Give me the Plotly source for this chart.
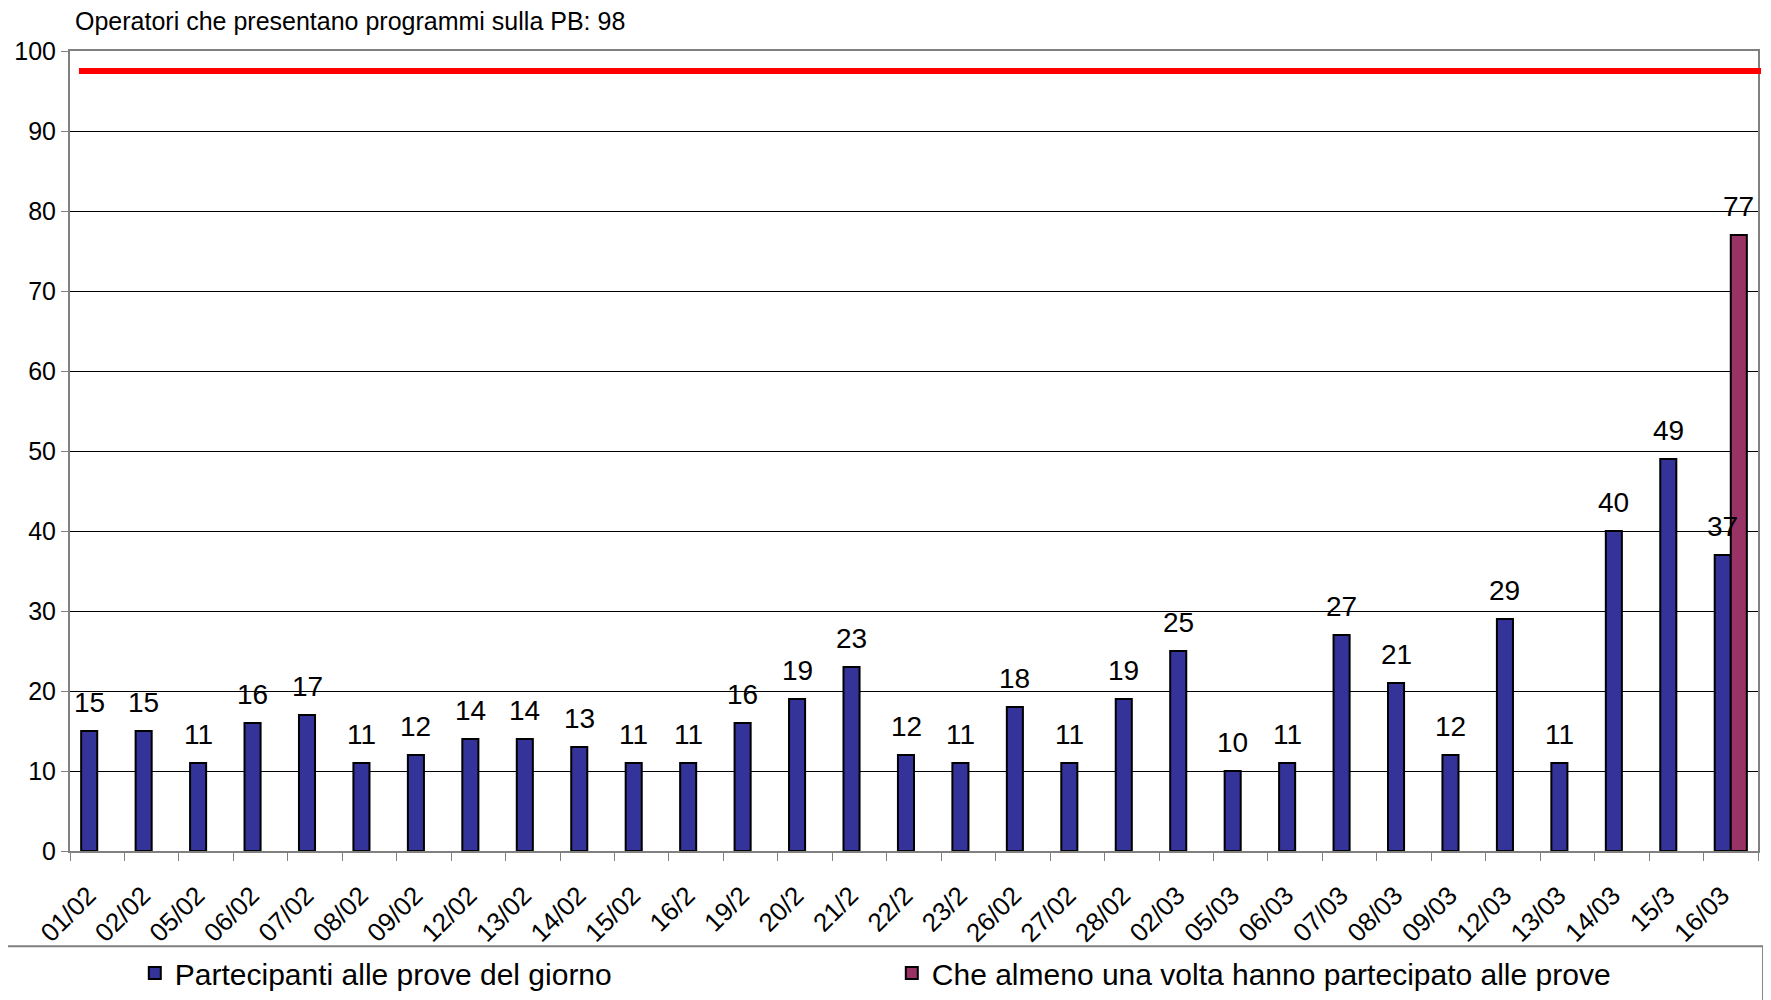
import plotly.graph_objects as go

# dates of the test sessions
giorni = ['01/02', '02/02', '05/02', '06/02', '07/02', '08/02', '09/02', '12/02',
          '13/02', '14/02', '15/02', '16/2', '19/2', '20/2', '21/2', '22/2', '23/2',
          '26/02', '27/02', '28/02', '02/03', '05/03', '06/03', '07/03', '08/03',
          '09/03', '12/03', '13/03', '14/03', '15/3', '16/03']

partecipanti = [15, 15, 11, 16, 17, 11, 12, 14, 14, 13, 11, 11, 16, 19, 23, 12, 11,
                18, 11, 19, 25, 10, 11, 27, 21, 12, 29, 11, 40, 49, 37]

almeno_una_volta = [None] * 30 + [77]

operatori_pb = 97.5
titolo = 'Operatori che presentano programmi sulla PB: 98'

FONT = 'Liberation Sans, Arial, sans-serif'
BLU = '#333399'
VIOLA = '#993366'

fig = go.Figure()
fig.add_bar(x=giorni, y=partecipanti, name='Partecipanti alle prove del giorno',
            marker=dict(color=BLU, line=dict(color='black', width=2)))
fig.add_bar(x=giorni, y=almeno_una_volta, name='Che almeno una volta hanno partecipato alle prove',
            marker=dict(color=VIOLA, line=dict(color='black', width=2)))

# value labels above the bars
annots = []
for serie, shift in ((partecipanti, -8), (almeno_una_volta, 8)):
    for g, v in zip(giorni, serie):
        if v is None:
            continue
        annots.append(dict(x=g, y=v, text=str(v), showarrow=False, xshift=shift, yshift=29,
                           yanchor='middle', font=dict(size=28, color='black', family=FONT)))

annots.append(dict(xref='paper', yref='paper', x=0.0015, y=1.037, text=titolo, showarrow=False,
                   xanchor='left', yanchor='middle', font=dict(size=25, color='black', family=FONT)))

fig.add_shape(type='line', xref='paper', yref='y', x0=0.0053, x1=1.0018,
              y0=operatori_pb, y1=operatori_pb, line=dict(color='#ff0000', width=6))
# legend frame
fig.add_shape(type='rect', xref='paper', yref='paper', x0=-0.0415, x1=1.003, y0=-0.2, y1=-0.119,
              line=dict(color='#808080', width=2))

# the page body adds 8px of margin, margins below take it into account
fig.update_layout(
    width=1771, height=1000,
    margin=dict(l=62, r=21, t=43, b=157, autoexpand=False),
    paper_bgcolor='white', plot_bgcolor='white',
    barmode='group', bargap=0.41, bargroupgap=0,
    font=dict(family=FONT, color='black'),
    annotations=annots,
    legend=dict(orientation='h', xref='container', yref='container', x=0.0716, y=0.035,
                xanchor='left', yanchor='middle',
                font=dict(size=30, family=FONT), entrywidth=712, entrywidthmode='pixels',
                bgcolor='rgba(0,0,0,0)'),
)
fig.update_xaxes(type='category', tickson='boundaries', ticks='outside', ticklen=8,
                 tickcolor='#808080', tickangle=-45, tickfont=dict(size=26),
                 showline=True, linecolor='#808080', linewidth=2, mirror=True,
                 showgrid=False, ticklabelstandoff=17, ticklabelshift=-9, automargin=False)
fig.update_yaxes(range=[0, 100], dtick=10, ticks='outside', ticklen=7, tickcolor='#808080',
                 tickfont=dict(size=25), showline=True, linecolor='#808080', linewidth=2,
                 mirror=True, showgrid=True, gridcolor='#000000', gridwidth=1, zeroline=False,
                 automargin=False)

fig.write_html('out.html')
